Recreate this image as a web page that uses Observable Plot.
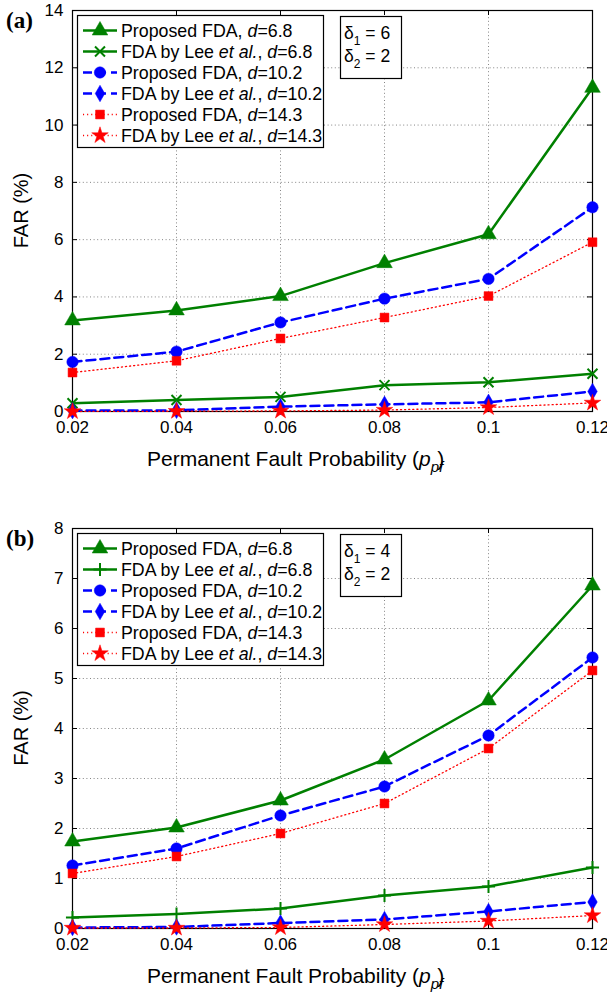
<!DOCTYPE html>
<html><head><meta charset="utf-8">
<script src="https://cdn.jsdelivr.net/npm/d3@7"></script>
<script src="https://cdn.jsdelivr.net/npm/@observablehq/plot@0.6"></script>
<style>
body{margin:0;background:#fff;}
#chart{width:607px;}
#chart svg{display:block;}
</style>
</head><body><div id="chart"></div>
<script>
// ---------- data ----------
const pfProb = [0.02, 0.04, 0.06, 0.08, 0.1, 0.12];
const xTickLabels = ["0.02", "0.04", "0.06", "0.08", "0.1", "0.12"];
const yTicksA = [0, 2, 4, 6, 8, 10, 12, 14];
const yTicksB = [0, 1, 2, 3, 4, 5, 6, 7, 8];

// Panel (a): delta1 = 6, delta2 = 2
const aPropD68  = [3.18, 3.53, 4.03, 5.18, 6.19, 11.3];
const aLeeD68   = [0.29, 0.40, 0.51, 0.92, 1.02, 1.32];
const aPropD102 = [1.73, 2.09, 3.11, 3.94, 4.63, 7.13];
const aLeeD102  = [0.03, 0.04, 0.17, 0.25, 0.32, 0.70];
const aPropD143 = [1.36, 1.77, 2.55, 3.28, 4.03, 5.91];
const aLeeD143  = [0.00, 0.01, 0.02, 0.05, 0.14, 0.30];

// Panel (b): delta1 = 4, delta2 = 2
const bPropD68  = [1.74, 2.02, 2.56, 3.38, 4.56, 6.86];
const bLeeD68   = [0.22, 0.29, 0.40, 0.66, 0.84, 1.22];
const bPropD102 = [1.26, 1.60, 2.26, 2.84, 3.86, 5.42];
const bLeeD102  = [0.02, 0.03, 0.11, 0.18, 0.34, 0.53];
const bPropD143 = [1.10, 1.44, 1.90, 2.50, 3.60, 5.16];
const bLeeD143  = [0.01, 0.01, 0.02, 0.08, 0.15, 0.26];

const methods = ["Proposed FDA", "FDA by Lee", "Proposed FDA", "FDA by Lee", "Proposed FDA", "FDA by Lee"];
const dValues = ["6.8", "6.8", "10.2", "10.2", "14.3", "14.3"];

// ---------- styles ----------
const GREEN = "#008000", BLUE = "#0000ff", RED = "#ff0000";
const FONT = "Liberation Sans, Arial, Helvetica, sans-serif";
function styles(leeSymbolGreen) {
  return [
    {color: GREEN, width: 2.5, dash: null, symbol: "triangle", r: 5.8, filled: true},
    {color: GREEN, width: 2.5, dash: null, symbol: leeSymbolGreen, r: leeSymbolGreen === "times" ? 4.6 : 4.3, filled: false},
    {color: BLUE, width: 2.5, dash: "9,5", symbol: "circle", r: 5.7, filled: true},
    {color: BLUE, width: 2.5, dash: "9,5", symbol: "diamond", r: 5.0, filled: true},
    {color: RED, width: 1.3, dash: "1.1,3", symbol: "square", r: 5.0, filled: true},
    {color: RED, width: 1.3, dash: "1.1,3", symbol: "star", r: 5.2, filled: true}
  ];
}
const d3Symbols = {
  triangle: d3.symbolTriangle, circle: d3.symbolCircle, diamond: d3.symbolDiamond,
  square: d3.symbolSquare, star: d3.symbolStar, times: d3.symbolTimes, plus: d3.symbolPlus
};

function panel(cfg) {
  const W = 607, H = cfg.height, mL = 72, mR = 15, mT = 10, mB = cfg.marginBottom;
  const innerW = W - mL - mR, innerH = H - mT - mB;
  const st = styles(cfg.leeSymbol);
  const marks = [
    Plot.gridX(pfProb, {stroke: "#777", strokeOpacity: 1, strokeWidth: 0.9, strokeDasharray: "1,2.6"}),
    Plot.gridY(cfg.yTicks, {stroke: "#777", strokeOpacity: 1, strokeWidth: 0.9, strokeDasharray: "1,2.6"}),
    Plot.tickX(pfProb, {x: d => d, insetTop: innerH - 5, stroke: "#000"}),
    Plot.tickX(pfProb, {x: d => d, insetBottom: innerH - 5, stroke: "#000"}),
    Plot.tickY(cfg.yTicks, {y: d => d, insetRight: innerW - 5, stroke: "#000"}),
    Plot.tickY(cfg.yTicks, {y: d => d, insetLeft: innerW - 5, stroke: "#000"}),
    Plot.axisX(pfProb, {tickSize: 0, tickPadding: 9, fontSize: 17, label: null,
      tickFormat: d => xTickLabels[pfProb.indexOf(d)]}),
    Plot.axisY(cfg.yTicks, {tickSize: 0, tickPadding: 9, fontSize: 17, label: null,
      tickFormat: d => String(d)}),
    Plot.frame({stroke: "#000", strokeWidth: 1.2})
  ];
  cfg.series.forEach((vals, k) => {
    const s = st[k];
    const rows = pfProb.map((p, i) => ({p, v: vals[i]}));
    marks.push(Plot.line(rows, {x: "p", y: "v", stroke: s.color, strokeWidth: s.width,
      strokeDasharray: s.dash || undefined}));
    marks.push(Plot.dot(rows, {x: "p", y: "v", symbol: () => s.symbol, r: s.r,
      fill: s.filled ? s.color : "none", stroke: s.color, strokeWidth: s.filled ? 0.5 : 2}));
  });
  const svg = Plot.plot({
    width: W, height: H, marginLeft: mL, marginRight: mR, marginTop: mT, marginBottom: mB,
    style: {fontFamily: FONT, fontSize: "17px", color: "#000", background: "#fff", overflow: "visible"},
    x: {domain: [0.02, 0.12]},
    y: {domain: cfg.yDomain},
    marks
  });
  const g = d3.select(svg).append("g").attr("font-family", FONT).attr("fill", "#000")
    .attr("text-anchor", "start");

  // panel tag
  g.append("text").attr("x", 6).attr("y", 28).attr("font-family", "Liberation Serif, Times New Roman, serif")
    .attr("font-weight", "bold").attr("font-size", 23).text(cfg.tag);

  // y label
  g.append("text").attr("transform", `translate(28,${mT + innerH / 2}) rotate(-90)`)
    .attr("text-anchor", "middle").attr("font-size", 20).text("FAR (%)");

  // x label
  const xl = g.append("text").attr("x", 147).attr("y", mT + innerH + 55).attr("font-size", 21);
  xl.append("tspan").text("Permanent Fault Probability (");
  xl.append("tspan").attr("font-style", "italic").text("p");
  xl.append("tspan").attr("font-style", "italic").attr("font-size", 15).attr("dy", 6).text("pf");
  xl.append("tspan").attr("dx", -6).attr("dy", -6).text(")");

  // legend
  const lg = g.append("g");
  lg.append("rect").attr("x", 77.5).attr("y", 15.5).attr("width", 246).attr("height", 132)
    .attr("fill", "#fff").attr("stroke", "#000").attr("stroke-width", 1.2);
  st.forEach((s, i) => {
    const cy = 30.5 + i * 21;
    lg.append("line").attr("x1", 83).attr("x2", 117).attr("y1", cy).attr("y2", cy)
      .attr("stroke", s.color).attr("stroke-width", s.width)
      .attr("stroke-dasharray", s.dash || null);
    lg.append("path").attr("transform", `translate(100,${cy})`)
      .attr("d", d3.symbol(d3Symbols[s.symbol], Math.PI * s.r * s.r)())
      .attr("fill", s.filled ? s.color : "none").attr("stroke", s.color)
      .attr("stroke-width", s.filled ? 0.5 : 2);
    const t = lg.append("text").attr("x", 121).attr("y", cy + 6).attr("font-size", 17.8);
    if (methods[i] === "FDA by Lee") {
      t.append("tspan").text("FDA by Lee ");
      t.append("tspan").attr("font-style", "italic").text("et al.");
      t.append("tspan").text(", ");
    } else {
      t.append("tspan").text("Proposed FDA, ");
    }
    t.append("tspan").attr("font-style", "italic").text("d");
    t.append("tspan").text("=" + dValues[i]);
  });

  // delta box
  const db = g.append("g");
  db.append("rect").attr("x", 340.5).attr("y", 16.5).attr("width", 61).attr("height", 62)
    .attr("fill", "#fff").attr("stroke", "#000").attr("stroke-width", 1.2);
  [["1", cfg.delta1], ["2", cfg.delta2]].forEach(([sub, val], i) => {
    const t = db.append("text").attr("x", 344).attr("y", 39 + i * 23).attr("font-size", 17.5);
    t.append("tspan").text("δ");
    t.append("tspan").attr("font-size", 12).attr("dy", 6).text(sub);
    t.append("tspan").attr("dy", -6).text(" = " + val);
  });
  return svg;
}

const root = document.getElementById("chart");
root.appendChild(panel({
  tag: "(a)", height: 518, marginBottom: 107, yDomain: [0, 14], yTicks: yTicksA,
  leeSymbol: "times", delta1: "6", delta2: "2",
  series: [aPropD68, aLeeD68, aPropD102, aLeeD102, aPropD143, aLeeD143]
}));
root.appendChild(panel({
  tag: "(b)", height: 480, marginBottom: 70, yDomain: [0, 8], yTicks: yTicksB,
  leeSymbol: "plus", delta1: "4", delta2: "2",
  series: [bPropD68, bLeeD68, bPropD102, bLeeD102, bPropD143, bLeeD143]
}));
</script></body></html>
